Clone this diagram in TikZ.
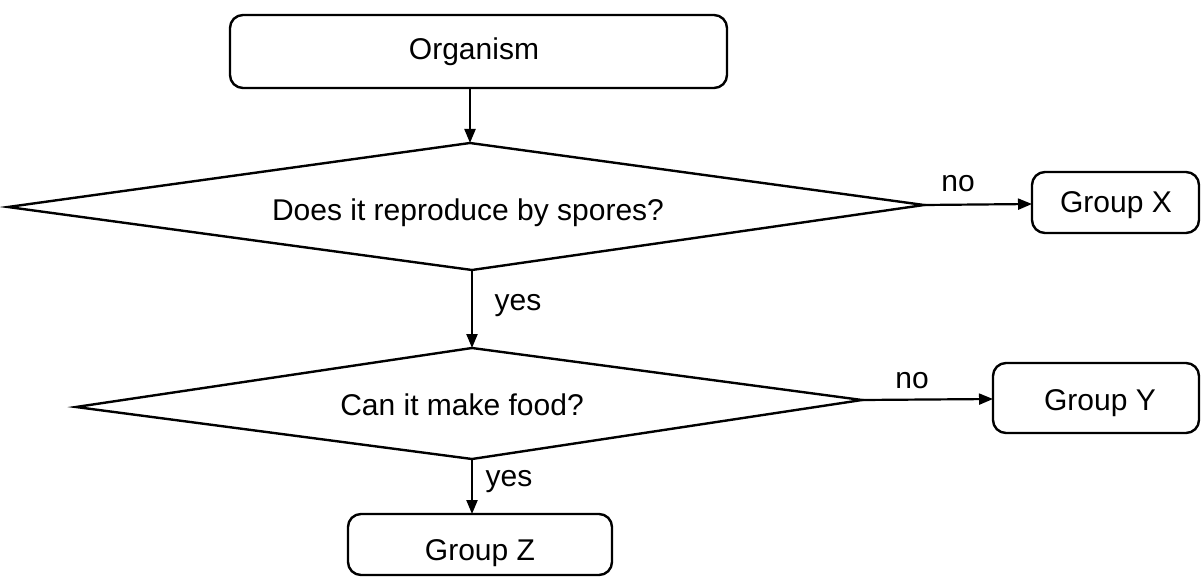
\documentclass[tikz,border=0pt]{standalone}
\usepackage{fontspec}
\setmainfont{Liberation Sans}
\usetikzlibrary{arrows.meta}
\begin{document}
\begin{tikzpicture}[x=1pt,y=-1pt,
  box/.style={draw, line width=2.4pt, rounded corners=13pt},
  dia/.style={draw, line width=2.4pt, line join=miter},
  conn/.style={line width=2.2pt, -{Triangle[length=14pt,width=11pt]}},
  lbl/.style={font=\fontsize{30}{33}\selectfont, anchor=base, inner sep=0pt},
  txt/.style={font=\fontsize{30}{33}\selectfont, anchor=base, inner sep=0pt}]
\useasboundingbox (0,0) rectangle (1201,577);
\clip (0,0) rectangle (1201,577);
% boxes
\draw[box] (230,15) rectangle (727,88);
\node[txt] (org) at (474,60) {Organism};
\coordinate (orgB) at (470,88);
\draw[box] (1032,172) rectangle (1199,233);
\node[txt] (gx) at (1116,213) {Group X};
\coordinate (gxL) at (1032,204);
\draw[box] (993,363) rectangle (1199,433);
\node[txt] (gy) at (1100,410) {Group Y};
\coordinate (gyL) at (993,399);
\draw[box] (348,514) rectangle (612,575);
\node[txt] (gz) at (480,560) {Group Z};
\coordinate (gzT) at (472,514);
% diamond 1
\coordinate (d1T) at (470,143);
\coordinate (d1L) at (8,207);
\coordinate (d1B) at (472,270);
\coordinate (d1R) at (924,205);
\draw[dia] (d1T) -- (d1R) -- (d1B) -- (d1L) -- cycle;
\node[txt] (q1) at (468,221) {Does it reproduce by spores?};
% diamond 2
\coordinate (d2T) at (472,348);
\coordinate (d2L) at (76,407);
\coordinate (d2B) at (472,459);
\coordinate (d2R) at (862,400);
\draw[dia] (d2T) -- (d2R) -- (d2B) -- (d2L) -- cycle;
\node[txt] (q2) at (462,415) {Can it make food?};
% connectors
\draw[conn] (orgB) -- (d1T);
\draw[conn] (d1R) -- (gxL);
\draw[conn] (d1B) -- (d2T);
\draw[conn] (d2R) -- (gyL);
\draw[conn] (d2B) -- (gzT);
% labels
\node[lbl] (no1) at (958,192) {no};
\node[lbl] (yes1) at (518,310) {yes};
\node[lbl] (no2) at (912,388) {no};
\node[lbl] (yes2) at (509,486) {yes};
\end{tikzpicture}
\end{document}
